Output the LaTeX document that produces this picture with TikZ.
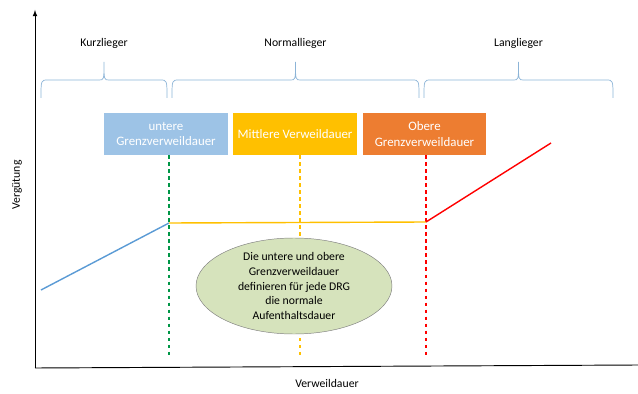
\documentclass[tikz,border=0pt]{standalone}
\usepackage{fontspec}
\setmainfont{Carlito}
\usepackage{tikz}
\usetikzlibrary{positioning}
\usetikzlibrary{shapes.geometric}
\definecolor{boxBlue}{RGB}{157,195,230}
\definecolor{boxYellow}{RGB}{255,192,0}
\definecolor{boxOrange}{RGB}{237,125,49}
\definecolor{lineBlue}{RGB}{91,155,213}
\definecolor{limitGreen}{RGB}{0,150,70}
\definecolor{braceBlue}{RGB}{140,180,215}
\definecolor{noteGreen}{RGB}{214,227,188}
\newcommand{\tikzBrace}[4]{%
  \pgfmathsetmacro{\braceMid}{(#1+#2)/2}
  \draw[braceBlue, semithick] (#1,98) .. controls (#1,80) .. (#1+7,80) -- (\braceMid-5,80) .. controls (\braceMid,80) .. (\braceMid,62)
    .. controls (\braceMid,80) .. (\braceMid+5,80) -- (#2-7,80) .. controls (#2,80) .. (#2,98);
  \node (#3) at (\braceMid,43) {#4}}

\begin{document}
\begin{tikzpicture}[x = 0.03cm, y = -0.03cm, font = \fontsize{10}{12.5}\selectfont,
                        limitbox/.style = {minimum width = 3.7cm, minimum height = 1.26cm, align = center, text = white, font = \fontsize{11}{13.5}\selectfont},
                        limitline/.style = {dashed, line width = 1.1pt}]
                        \useasboundingbox (0,0) rectangle (638,394);
                        % axes
                        \coordinate (origin) at (35,368);
                        \coordinate (yTop) at (35,10);
                        \coordinate (xEnd) at (638,365);
                        \draw[-latex, thick] (origin) -- (yTop);
                        \draw[thick] (origin) -- (xEnd);
                        \node[rotate = 90] (yLabel) at (17,185) {Vergütung};
                        \node (xLabel) at (327,383) {Verweildauer};
                        % braces
                        \tikzBrace{41}{167}{shortLabel}{Kurzlieger};
                        \tikzBrace{172}{419}{normalLabel}{Normallieger};
                        \tikzBrace{424}{613}{longLabel}{Langlieger};
                        % boxes
                        \node[limitbox, fill = boxBlue] (lowerBox) at (166,134) {untere\\Grenzverweildauer};
                        \node[limitbox, fill = boxYellow] (meanBox) at (295,134) {Mittlere Verweildauer};
                        \node[limitbox, fill = boxOrange] (upperBox) at (424.5,134) {Obere\\Grenzverweildauer};
                        % limits
                        \coordinate (greenTop) at (169,155);
                        \coordinate (greenEnd) at (169,358);
                        \coordinate (meanTop) at (300,155);
                        \coordinate (meanEnd) at (300,358);
                        \coordinate (upperTop) at (426,155);
                        \coordinate (upperEnd) at (426,358);
                        \draw[limitline, red] (upperTop) -- (upperEnd);
                        \draw[limitline, boxYellow] (meanTop) -- (meanEnd);
                        \draw[limitline, limitGreen] (greenTop) -- (greenEnd);
                        % payment curve
                        \coordinate (startPay) at (41,290);
                        \coordinate (lowerPay) at (169,223);
                        \coordinate (upperPay) at (426,222);
                        \coordinate (endPay) at (551,143);
                        \draw[very thick, lineBlue] (startPay) -- (lowerPay);
                        \draw[very thick, boxYellow] (lowerPay) -- (upperPay);
                        \draw[very thick, red] (upperPay) -- (endPay);
                        % note
                        \node[ellipse, draw = gray, fill = noteGreen, minimum width = 5.88cm, minimum height = 2.88cm, align = center, inner sep = 0pt] (note) at (294,286)
                          {Die untere und obere\\Grenzverweildauer\\definieren für jede DRG\\die normale\\Aufenthaltsdauer};
                      \end{tikzpicture}
\end{document}
